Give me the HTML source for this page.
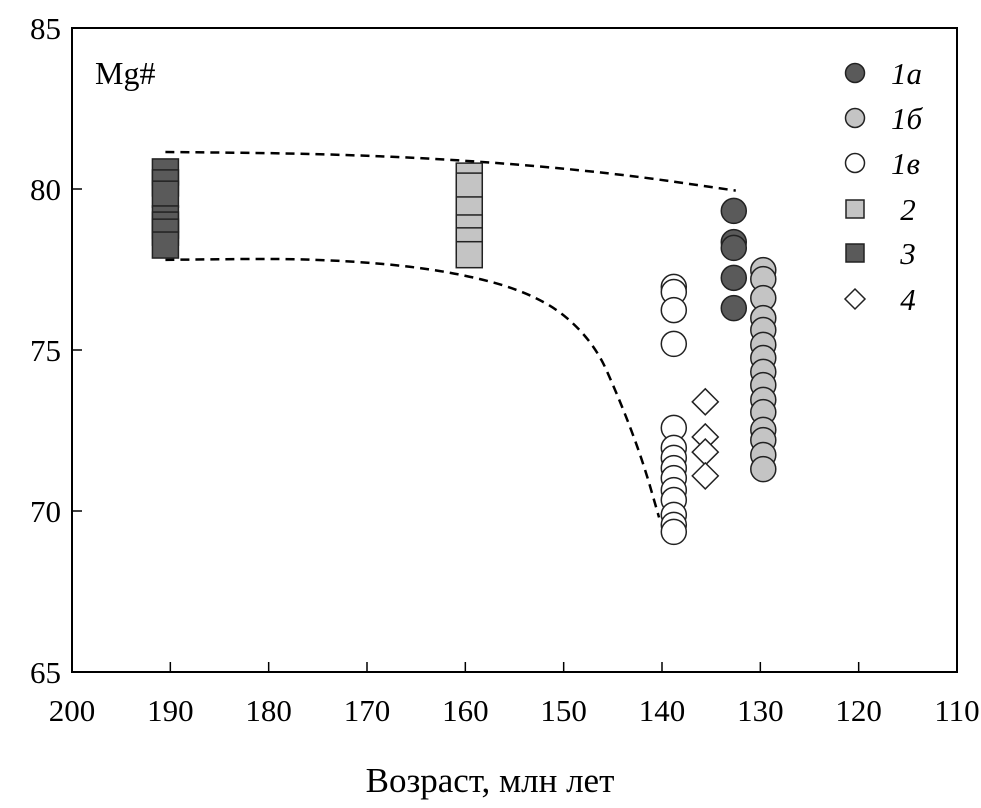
<!DOCTYPE html>
<html><head><meta charset="utf-8"><style>
html,body{margin:0;padding:0;background:#fff;}
svg{display:block;font-family:"Liberation Serif",serif;}
</style></head><body>
<svg id="chart" width="981" height="808" viewBox="0 0 981 808"></svg>
<script>
const xTicks=[200,190,180,170,160,150,140,130,120,110];
const yTicks=[65,70,75,80,85];
const dark3Age=190.5;
const dark3Mg=[80.53,80.19,79.84,79.07,78.88,78.66,78.26];
const light2Age=159.6;
const light2Mg=[80.40,80.09,79.35,78.79,78.39,77.96];
const s1aAge=132.7;
const s1aMg=[79.32,78.35,78.17,77.24,76.30];
const s1bAge=129.7;
const s1bMg=[77.48,77.20,76.61,75.99,75.62,75.16,74.75,74.32,73.91,73.45,73.07,72.52,72.20,71.74,71.30];
const s1vAge=138.8;
const s1vMg=[76.96,76.80,76.24,75.19,72.58,71.96,71.65,71.33,71.02,70.65,70.34,69.88,69.57,69.35];
const s4Age=135.6;
const s4Mg=[73.39,72.30,71.83,71.09];
const upperAge=[190.5,175,160,145,132.5];
const upperMg=[81.15,81.1,80.9,80.5,79.95];
const lowerAge=[190.5,175,162,152.4,147,144.3,142,140.3];
const lowerMg=[77.8,77.85,77.5,76.7,75.3,73.45,71.6,69.8];

const X0=72,X1=957,Y0=28,Y1=672;
const xs=v=>X0+(200-v)/90*(X1-X0);
const ys=v=>Y1-(v-65)/20*(Y1-Y0);
const svg=document.getElementById('chart');
const NS='http://www.w3.org/2000/svg';
function mk(tag,attrs,parent){const e=document.createElementNS(NS,tag);for(const k in attrs)e.setAttribute(k,attrs[k]);(parent||svg).appendChild(e);return e;}

function pathFrom(ax,ay){let d='';for(let i=0;i<ax.length;i++){const x=xs(ax[i]),y=ys(ay[i]);if(i==0)d='M'+x+' '+y;else{const px=xs(ax[i-1]),py=ys(ay[i-1]);d+=' Q'+px+' '+py+' '+((px+x)/2)+' '+((py+y)/2);}}d+=' L'+xs(ax[ax.length-1])+' '+ys(ay[ay.length-1]);return d;}
let p=mk('path',{d:pathFrom(upperAge,upperMg),fill:'none',stroke:'#000','stroke-width':2.5,'stroke-dasharray':'9,6'});


p=mk('path',{d:pathFrom(lowerAge,lowerMg),fill:'none',stroke:'#000','stroke-width':2.5,'stroke-dasharray':'9,6'});



function squares(age,arr,fill,name){arr.forEach(v=>{const r=mk('rect',{x:xs(age)-13,y:ys(v)-13,width:26,height:26,fill:fill,stroke:'#222','stroke-width':1.5});

});}
function circles(age,arr,fill,name){arr.forEach(v=>{const c=mk('circle',{cx:xs(age),cy:ys(v),r:12.5,fill:fill,stroke:'#222','stroke-width':1.5});

});}
function diamonds(age,arr,name){arr.forEach(v=>{const x=xs(age),y=ys(v);const d=mk('polygon',{points:`${x},${y-13} ${x+13},${y} ${x},${y+13} ${x-13},${y}`,fill:'#fff',stroke:'#222','stroke-width':1.5});

});}
squares(dark3Age,dark3Mg,'#5a5a5a','point-3');
squares(light2Age,light2Mg,'#c4c4c4','point-2');
circles(s1aAge,s1aMg,'#5a5a5a','point-1a');
circles(s1bAge,s1bMg,'#c4c4c4','point-1b');
circles(s1vAge,s1vMg,'#fff','point-1v');
diamonds(s4Age,s4Mg,'point-4');

const fr=mk('rect',{x:X0,y:Y0,width:X1-X0,height:Y1-Y0,fill:'none',stroke:'#000','stroke-width':2});


xTicks.forEach(t=>{const x=xs(t);mk('line',{x1:x,x2:x,y1:Y1,y2:Y1-10,stroke:'#000','stroke-width':1.5});
const tx=mk('text',{x:x,y:721,'text-anchor':'middle','font-size':31});tx.textContent=t;

});
yTicks.forEach(t=>{const y=ys(t);mk('line',{x1:X0,x2:X0+10,y1:y,y2:y,stroke:'#000','stroke-width':1.5});
const tx=mk('text',{x:61,y:y+11,'text-anchor':'end','font-size':31});tx.textContent=t;

});
let t=mk('text',{x:490,y:792,'text-anchor':'middle','font-size':35});t.textContent='Возраст, млн лет';


t=mk('text',{x:95,y:84,'font-size':32});t.textContent='Mg#';



const legY=[73,118,163,209,253,299];
const legLab=['1а','1б','1в','2','3','4'];
const lx=855;
legLab.forEach((l,i)=>{const y=legY[i];let m;
if(i<3)m=mk('circle',{cx:lx,cy:y,r:9.5,fill:['#5a5a5a','#c4c4c4','#fff'][i],stroke:'#222','stroke-width':1.5});
else if(i<5)m=mk('rect',{x:lx-9,y:y-9,width:18,height:18,fill:i==3?'#c4c4c4':'#5a5a5a',stroke:'#222','stroke-width':1.5});
else m=mk('polygon',{points:`${lx},${y-10} ${lx+10},${y} ${lx},${y+10} ${lx-10},${y}`,fill:'#fff',stroke:'#222','stroke-width':1.5});


const tx=mk('text',{x:i<3?891:908,y:y+11,'font-size':31,'font-style':'italic','text-anchor':i<3?'start':'middle'});tx.textContent=l;

});
</script>
</body></html>
